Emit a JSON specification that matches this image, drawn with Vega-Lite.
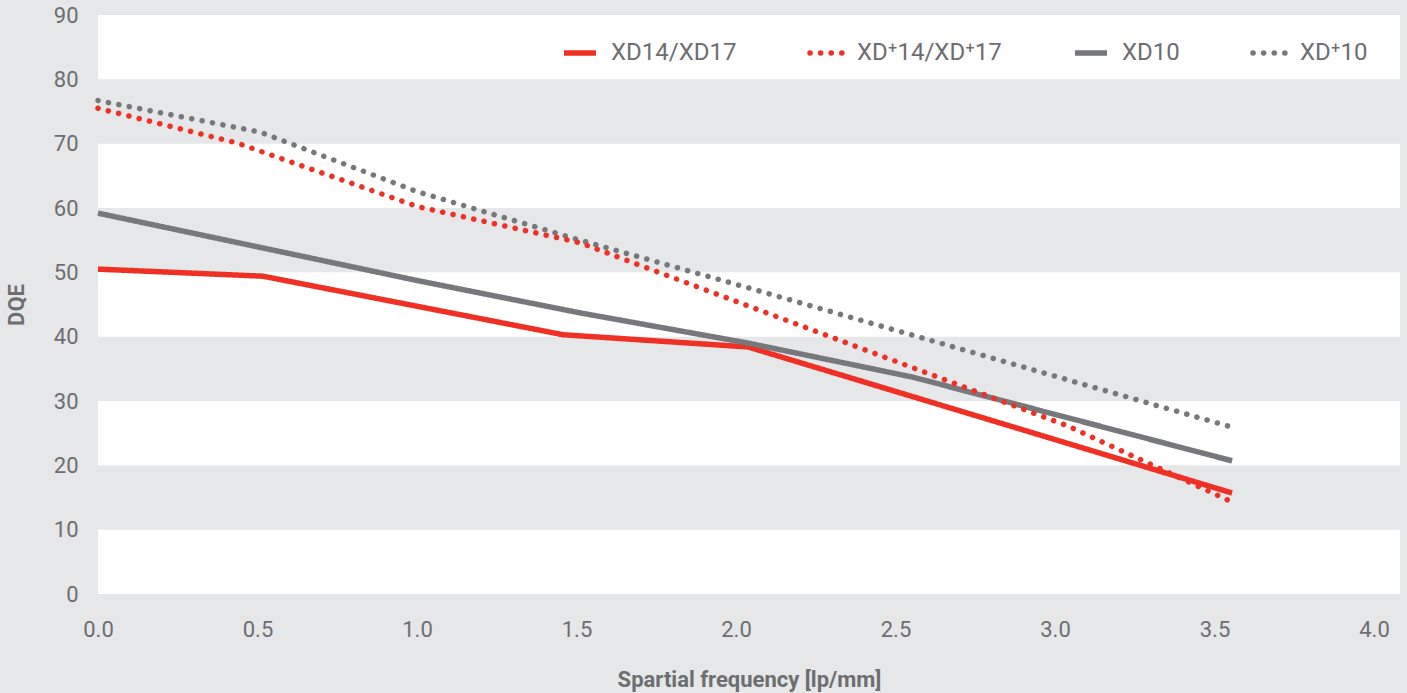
{
  "$schema": "https://vega.github.io/schema/vega-lite/v6.json",
  "width": 1302,
  "height": 579,
  "autosize": {"type": "none"},
  "padding": {"left": 98, "top": 15, "right": 7, "bottom": 99},
  "background": "#e6e7e8",
  "config": {
    "view": {"stroke": null},
    "font": "Roboto",
    "axis": {
      "domain": false,
      "ticks": false,
      "grid": false,
      "labelFont": "Roboto",
      "labelFontSize": 22,
      "labelColor": "#6d6e71",
      "titleFont": "Roboto",
      "titleFontSize": 22,
      "titleFontWeight": "bold",
      "titleColor": "#6d6e71"
    },
    "axisX": {"labelPadding": 25, "titlePadding": 29, "labelFlush": false},
    "axisY": {"labelPadding": 20, "titlePadding": 25}
  },
  "datasets": {
    "bands": [
      {"lo": 0, "hi": 10},
      {"lo": 20, "hi": 30},
      {"lo": 40, "hi": 50},
      {"lo": 60, "hi": 70},
      {"lo": 80, "hi": 90}
    ],
    "curves": [
      {"series": "XD14/XD17", "f": 0, "dqe": 50.5},
      {"series": "XD14/XD17", "f": 0.517, "dqe": 49.4},
      {"series": "XD14/XD17", "f": 1.458, "dqe": 40.3},
      {"series": "XD14/XD17", "f": 2.038, "dqe": 38.4},
      {"series": "XD14/XD17", "f": 3.555, "dqe": 15.7},
      {"series": "XD10", "f": 0, "dqe": 59.2},
      {"series": "XD10", "f": 1.003, "dqe": 48.7},
      {"series": "XD10", "f": 1.511, "dqe": 43.7},
      {"series": "XD10", "f": 2.038, "dqe": 39.0},
      {"series": "XD10", "f": 2.555, "dqe": 33.7},
      {"series": "XD10", "f": 3.555, "dqe": 20.7},
      {"series": "XD⁺10", "f": 0, "dqe": 76.7},
      {"series": "XD⁺10", "f": 0.508, "dqe": 71.8},
      {"series": "XD⁺10", "f": 1.003, "dqe": 62.5},
      {"series": "XD⁺10", "f": 1.511, "dqe": 55.0},
      {"series": "XD⁺10", "f": 2.038, "dqe": 47.6},
      {"series": "XD⁺10", "f": 3.564, "dqe": 25.8},
      {"series": "XD⁺14/XD⁺17", "f": 0, "dqe": 75.5},
      {"series": "XD⁺14/XD⁺17", "f": 0.436, "dqe": 70.1},
      {"series": "XD⁺14/XD⁺17", "f": 1.003, "dqe": 60.2},
      {"series": "XD⁺14/XD⁺17", "f": 1.511, "dqe": 54.6},
      {"series": "XD⁺14/XD⁺17", "f": 3.041, "dqe": 26.1},
      {"series": "XD⁺14/XD⁺17", "f": 3.555, "dqe": 14.3}
    ]
  },
  "layer": [
    {
      "data": {"name": "bands"},
      "mark": {"type": "rect", "color": "#ffffff"},
      "encoding": {
        "y": {"field": "lo", "type": "quantitative", "scale": {"domain": [0, 90], "nice": false}, "axis": {"values": [0,10,20,30,40,50,60,70,80,90], "title": "DQE"}},
        "y2": {"field": "hi"}
      }
    },
    {
      "data": {"name": "curves"},
      "transform": [{"filter": {"field": "series", "oneOf": ["XD14/XD17", "XD10"]}}],
      "mark": {"type": "line", "strokeWidth": 5.5, "strokeCap": "butt", "strokeJoin": "round"},
      "encoding": {
        "x": {"field": "f", "type": "quantitative", "scale": {"domain": [0, 4.0815], "nice": false, "zero": false}, "axis": {"values": [0,0.5,1,1.5,2,2.5,3,3.5,4], "format": ".1f", "title": "Spartial frequency [lp/mm]"}},
        "y": {"field": "dqe", "type": "quantitative", "axis": {"values": [0,10,20,30,40,50,60,70,80,90], "title": "DQE"}},
        "color": {"field": "series", "type": "nominal", "sort": null,
          "scale": {"domain": ["XD14/XD17", "XD⁺14/XD⁺17", "XD10", "XD⁺10"], "range": ["#ee3124", "#ee3124", "#77787b", "#77787b"]},
          "legend": {
            "title": null, "orient": "none", "legendX": 463, "legendY": 19, "direction": "horizontal",
            "symbolType": "stroke", "symbolSize": 1024, "symbolStrokeWidth": 5.5,
            "labelFont": "Roboto", "labelFontSize": 24, "labelColor": "#6d6e71", "labelOffset": 12, "columnPadding": 62, "labelLimit": 300,
            "encode": {"symbols": {"update": {"strokeCap": {"signal": "indexof(datum.value, '⁺') >= 0 ? 'round' : 'butt'"}}}}
          }},
        "strokeDash": {"field": "series", "type": "nominal", "sort": null,
          "scale": {"domain": ["XD14/XD17", "XD⁺14/XD⁺17", "XD10", "XD⁺10"], "range": [[1, 0], [0.1, 10.5], [1, 0], [0.1, 10.5]]},
          "legend": {
            "title": null, "orient": "none", "legendX": 463, "legendY": 19, "direction": "horizontal",
            "symbolType": "stroke", "symbolSize": 1024, "symbolStrokeWidth": 5.5,
            "labelFont": "Roboto", "labelFontSize": 24, "labelColor": "#6d6e71", "labelOffset": 12, "columnPadding": 62, "labelLimit": 300,
            "encode": {"symbols": {"update": {"strokeCap": {"signal": "indexof(datum.value, '⁺') >= 0 ? 'round' : 'butt'"}}}}
          }}
      }
    },
    {
      "data": {"name": "curves"},
      "transform": [{"filter": {"field": "series", "oneOf": ["XD⁺10", "XD⁺14/XD⁺17"]}}],
      "mark": {"type": "line", "strokeWidth": 5.5, "strokeCap": "round", "strokeJoin": "round"},
      "encoding": {
        "x": {"field": "f", "type": "quantitative", "axis": {"values": [0,0.5,1,1.5,2,2.5,3,3.5,4], "format": ".1f", "title": "Spartial frequency [lp/mm]"}},
        "y": {"field": "dqe", "type": "quantitative", "axis": {"values": [0,10,20,30,40,50,60,70,80,90], "title": "DQE"}},
        "color": {"field": "series", "type": "nominal", "sort": null},
        "strokeDash": {"field": "series", "type": "nominal", "sort": null}
      }
    }
  ]
}
